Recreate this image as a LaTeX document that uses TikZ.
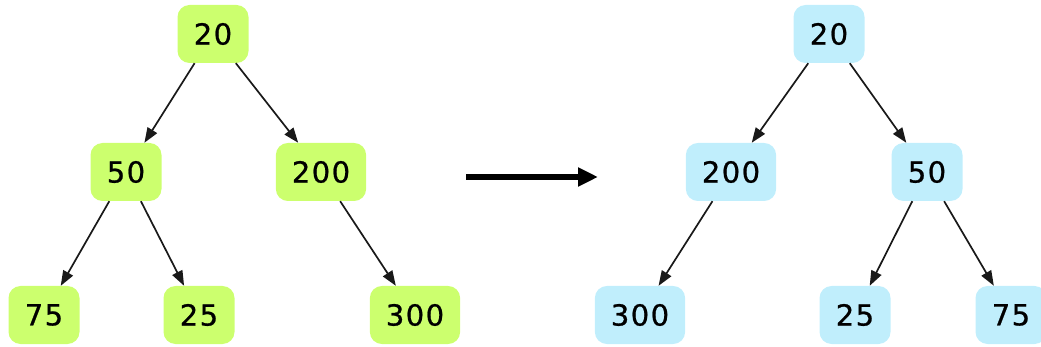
\documentclass[tikz,border=0pt]{standalone}
\usepackage{fontspec}
\newfontfamily\keyfont{DejaVu Sans}[LetterSpace=5, FakeBold=0.8]
\usetikzlibrary{arrows.meta}
\definecolor{limegreen1}{RGB}{204, 255, 110}
\definecolor{skyblue1}{RGB}{192, 238, 252}
\definecolor{edgegray}{RGB}{25, 25, 25}

\begin{document}
\begin{tikzpicture}[x=1pt, y=-1pt,
  key/.style={rounded corners=12pt, inner xsep=16pt, inner ysep=0pt,
              minimum width=71pt, minimum height=58pt,
              font=\keyfont\fontsize{29}{32}\selectfont},
  before/.style={key, fill=limegreen1},
  after/.style={key, fill=skyblue1},
  edge/.style={-{Triangle[length=15pt, width=11pt]}, line width=1.7pt, edgegray},
]
\useasboundingbox (0, 0) rectangle (1041, 347);

% Original tree
\node[before] (a20)  at (213, 34)  {20};
\node[before] (a50)  at (126, 172) {50};
\node[before] (a200) at (321, 172) {200};
\node[before] (a75)  at (44, 315)  {75};
\node[before] (a25)  at (199, 315) {25};
\node[before] (a300) at (415, 315) {300};

% Mirrored tree
\node[after] (b20)  at (829, 34)  {20};
\node[after] (b200) at (731, 172) {200};
\node[after] (b50)  at (927, 172) {50};
\node[after] (b300) at (640, 315) {300};
\node[after] (b25)  at (855, 315) {25};
\node[after] (b75)  at (1011, 315) {75};

% Edges
\draw[edge] (a20) -- (a50);
\draw[edge] (a20) -- (a200);
\draw[edge] (a50) -- (a75);
\draw[edge] (a50) -- (a25);
\draw[edge] (a200) -- (a300);

\draw[edge] (b20) -- (b200);
\draw[edge] (b20) -- (b50);
\draw[edge] (b200) -- (b300);
\draw[edge] (b50) -- (b25);
\draw[edge] (b50) -- (b75);

% Big arrow
\coordinate (from) at (466, 177);
\coordinate (to)   at (598, 177);
\draw[-{Triangle[length=20pt, width=18pt]}, line width=5.5pt] (from) -- (to);
\end{tikzpicture}
\end{document}
